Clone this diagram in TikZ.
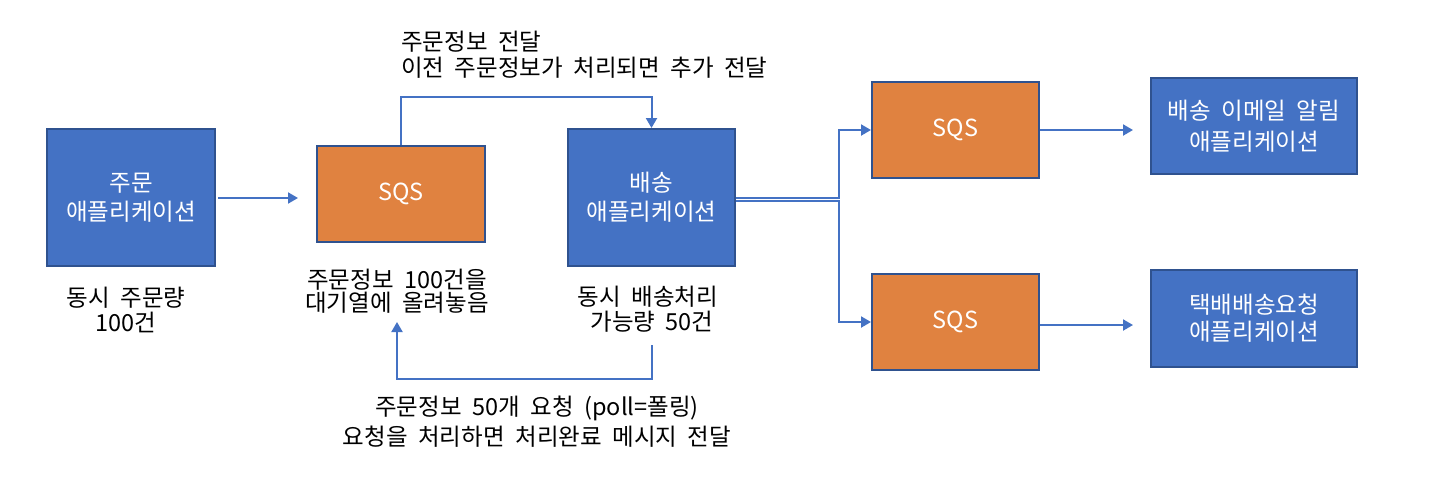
\documentclass[tikz,border=0pt]{standalone}
\usepackage{fontspec}
\setmainfont[WordSpace=2.0]{Noto Sans CJK KR}
\usetikzlibrary{arrows.meta,calc}
\definecolor{boxblue}{HTML}{4472C4}
\definecolor{boxedge}{HTML}{2F528F}
\definecolor{sqsorange}{HTML}{E08240}
\definecolor{conn}{HTML}{4472C4}
\begin{document}
\begin{tikzpicture}[x=1pt,y=-1pt,
  base/.style={draw=boxedge,line width=2pt,inner sep=0pt,text=white,align=center,
    font=\fontsize{23.5}{29}\selectfont},
  appbox/.style={base,fill=boxblue},
  sqsbox/.style={base,fill=sqsorange},
  note/.style={inner sep=0pt,align=center,text=black,font=\fontsize{23.5}{25}\selectfont},
  conarrow/.style={draw=conn,line width=2pt,-{Triangle[length=10pt,width=11pt]}},
  conline/.style={draw=conn,line width=2pt}]
\useasboundingbox (0,0) rectangle (1430,498);
\fill[white] (0,0) rectangle (1430,498);

% boxes
\node[appbox,minimum width=168pt,minimum height=137pt] (app) at (131,197.5) {주문\\애플리케이션};
\node[sqsbox,minimum width=168pt,minimum height=96pt] (sqs1) at (401,194) {SQS};
\node[appbox,minimum width=167pt,minimum height=137pt] (dlv) at (651.5,197.5) {배송\\애플리케이션};
\node[sqsbox,minimum width=167pt,minimum height=96pt] (sqs2) at (955.5,130) {SQS};
\node[sqsbox,minimum width=167pt,minimum height=96pt] (sqs3) at (955.5,322) {SQS};
\node[appbox,minimum width=206pt,minimum height=96pt,font=\fontsize{23.5}{31}\selectfont] (mail) at (1254,126) {배송 이메일 알림\\애플리케이션};
\node[appbox,minimum width=206pt,minimum height=97pt,font=\fontsize{23.5}{27}\selectfont] (tb) at (1254,318.5) {택배배송요청\\애플리케이션};

% notes
\node[note] (n1) at (126,309.5) {동시 주문량\\100건};
\node[note,font=\fontsize{23.5}{23}\selectfont] (n2) at (397,291) {주문정보 100건을\\대기열에 올려놓음};
\node[note] (n3) at (648,309.5) {동시 배송처리\\\hspace*{8pt}가능량 50건};
\node[note,align=left,anchor=west,font=\fontsize{23.5}{26}\selectfont] (ntop) at (401,55) {주문정보 전달\\이전 주문정보가 처리되면 추가 전달};
\node[note,font=\fontsize{23.5}{30}\selectfont] (nbot) at (537,422) {주문정보 50개 요청 (poll=폴링)\\요청을 처리하면 처리완료 메시지 전달};

% connectors
\coordinate (aStart) at (218,198);
\coordinate (aEnd) at (298,198);
\draw[conarrow] (aStart) -- (aEnd);

\draw[conarrow] (sqs1.north) -- (401,97) -| (dlv.north);

\coordinate (pStart) at (652,345);
\coordinate (pEnd) at (397,322);
\draw[conarrow] (pStart) -- (652,379) -| (pEnd);

\draw[conarrow] ($(dlv.east)+(0,0.5)$) -- (839,198) |- (sqs2.west);
\draw[conarrow] ($(dlv.east)+(0,3.5)$) -- (839,201) |- (sqs3.west);

\coordinate (m1) at (1133,130);
\coordinate (m2) at (1133,325);
\draw[conarrow] (sqs2.east) -- (m1);
\draw[conarrow] ($(sqs3.east)+(0,3)$) -- (m2);
\end{tikzpicture}
\end{document}
